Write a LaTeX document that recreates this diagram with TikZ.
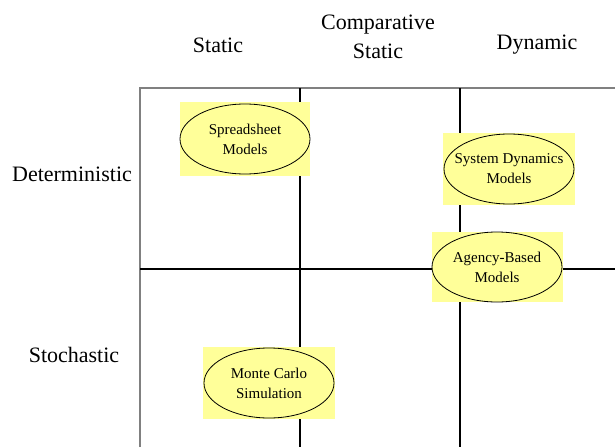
\documentclass[tikz,border=0pt]{standalone}
\usepackage{fontspec}
\setmainfont{Liberation Serif}
\usetikzlibrary{shapes.geometric}
\definecolor{pad}{RGB}{255,255,153}
\definecolor{frame}{RGB}{128,128,128}
\tikzset{
  grid/.style={line width=2pt, black},
  outer/.style={line width=1.5pt, frame},
  padbox/.style={fill=pad, draw=none},
  model/.style={ellipse, draw=black, line width=0.8pt, fill=pad, minimum width=130pt, minimum height=70pt, inner xsep=-15pt, inner ysep=0pt, align=center, font=\fontsize{15}{20}\selectfont},
  head/.style={align=center, font=\fontsize{22}{29}\selectfont}
}
\begin{document}
\begin{tikzpicture}[x=1pt,y=-1pt]
\useasboundingbox (0,0) rectangle (615,447);
\fill[white] (0,0) rectangle (615,447);
% frame
\draw[outer] (140,447) -- (140,88) -- (615,88);
\draw[grid] (300,88) -- (300,447);
\draw[grid] (460,88) -- (460,447);
\draw[grid] (140,269) -- (615,269);
% headers
\node[head] (hs) at (218,45) {Static};
\node[head] (hc) at (378,37) {Comparative\\Static};
\node[head] (hd) at (537,45) {Dynamic};
\node[head] (rd) at (72,174) {Deterministic};
\node[head] (rs) at (74,355) {Stochastic};
% models
\fill[padbox] (180,102) rectangle (310,176);
\node[model] (ss) at (245,139) {Spreadsheet\\Models};
\fill[padbox] (443,133) rectangle (575,205);
\node[model] (sd) at (509,169) {System Dynamics\\Models};
\fill[padbox] (432,232) rectangle (563,302);
\node[model] (ab) at (497,267) {Agency-Based\\Models};
\fill[padbox] (203,347) rectangle (335,419);
\node[model] (mc) at (269,383) {Monte Carlo\\Simulation};
\end{tikzpicture}
\end{document}
